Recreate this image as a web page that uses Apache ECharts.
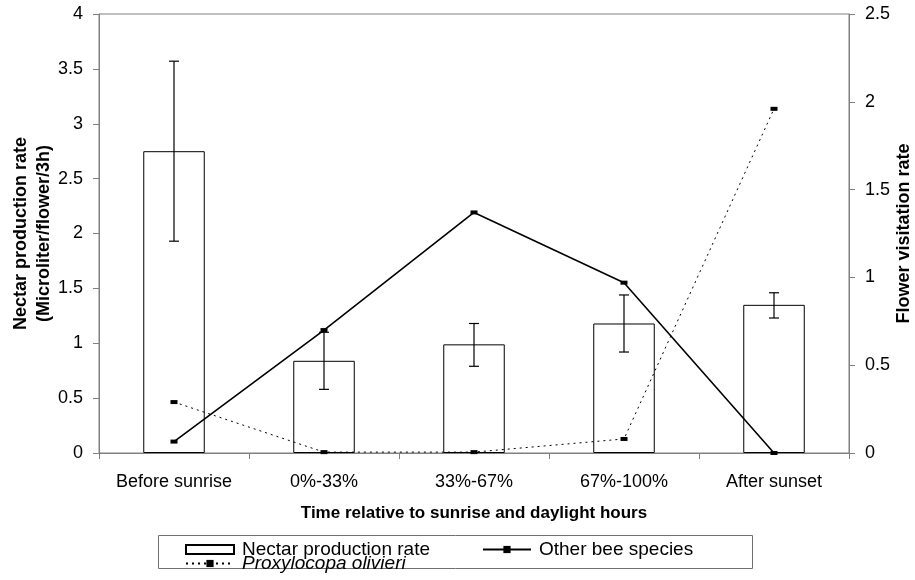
<!DOCTYPE html>
<html>
<head>
<meta charset="utf-8">
<script src="https://cdn.jsdelivr.net/npm/echarts@6/dist/echarts.min.js"></script>
<style>
html,body{margin:0;padding:0;background:#fff;}
#c{width:915px;height:580px;}
</style>
</head>
<body>
<div id="c"></div>
<script>
const categories = ['Before sunrise', '0%-33%', '33%-67%', '67%-100%', 'After sunset'];
const nectarRate = [2.75, 0.84, 0.99, 1.18, 1.35];
const nectarErrLow = [1.93, 0.58, 0.79, 0.92, 1.23];
const nectarErrHigh = [3.57, 1.10, 1.18, 1.44, 1.46];
const otherBees = [0.065, 0.70, 1.37, 0.97, 0.0];
const proxylocopa = [0.29, 0.005, 0.005, 0.08, 1.96];
const leftTicks = { min: 0, max: 4, interval: 0.5 };
const rightTicks = { min: 0, max: 2.5, interval: 0.5 };

const FONT = '"Liberation Sans", Arial, sans-serif';
const AXIS_COLOR = '#808080';

const errData = categories.map((c, i) => [i, nectarErrLow[i], nectarErrHigh[i]]);

const chart = echarts.init(document.getElementById('c'), null, { renderer: 'canvas' });
chart.setOption({
  backgroundColor: '#ffffff',
  animation: false,
  textStyle: { fontFamily: FONT, color: '#000' },
  grid: { left: 99, right: 66, top: 14, bottom: 127, containLabel: false, outerBoundsMode: 'none', show: true, borderColor: AXIS_COLOR, borderWidth: 1, backgroundColor: 'transparent' },
  xAxis: {
    type: 'category',
    data: categories,
    boundaryGap: true,
    axisLine: { lineStyle: { color: AXIS_COLOR, width: 1 } },
    axisTick: { show: true, length: 6, inside: false, lineStyle: { color: AXIS_COLOR } },
    axisLabel: { color: '#000', fontSize: 18, fontFamily: FONT, margin: 20, interval: 0, hideOverlap: false },
    name: 'Time relative to sunrise and daylight hours',
    nameLocation: 'middle',
    nameGap: 52,
    nameMoveOverlap: false,
    nameTextStyle: { color: '#000', fontSize: 17, fontWeight: 'bold', fontFamily: FONT }
  },
  yAxis: [
    {
      type: 'value',
      min: leftTicks.min, max: leftTicks.max, interval: leftTicks.interval,
      position: 'left',
      axisLine: { show: true, lineStyle: { color: AXIS_COLOR, width: 1 } },
      axisTick: { show: true, length: 6, lineStyle: { color: AXIS_COLOR } },
      splitLine: { show: false },
      axisLabel: { color: '#000', fontSize: 18, fontFamily: FONT, margin: 16 },
      name: 'Nectar production rate\n(Microliter/flower/3h)',
      nameLocation: 'middle',
      nameRotate: 90,
      nameGap: 43,
      nameMoveOverlap: false,
      nameTextStyle: { color: '#000', fontSize: 18, fontWeight: 'bold', fontFamily: FONT, lineHeight: 23, align: 'center' }
    },
    {
      type: 'value',
      min: rightTicks.min, max: rightTicks.max, interval: rightTicks.interval,
      position: 'right',
      axisLine: { show: true, lineStyle: { color: AXIS_COLOR, width: 1 } },
      axisTick: { show: true, length: 6, lineStyle: { color: AXIS_COLOR } },
      splitLine: { show: false },
      axisLabel: { color: '#000', fontSize: 18, fontFamily: FONT, margin: 16 },
      name: 'Flower visitation rate',
      nameLocation: 'middle',
      nameRotate: 90,
      nameGap: 46,
      nameMoveOverlap: false,
      nameTextStyle: { color: '#000', fontSize: 18, fontWeight: 'bold', fontFamily: FONT }
    }
  ],
  legend: [
    {
      data: [{ name: 'Nectar production rate', icon: 'rect' }, 'Other bee species'],
      left: 185, top: 540,
      orient: 'horizontal',
      itemWidth: 48, itemHeight: 9, itemGap: 52,
      padding: 0,
      textStyle: { color: '#000', fontSize: 19, fontFamily: FONT, padding: [0, 0, 0, 3] },
      selectedMode: false
    },
    {
      data: ['Proxylocopa olivieri'],
      left: 185, top: 554,
      padding: 0,
      itemWidth: 48, itemHeight: 9,
      textStyle: { color: '#000', fontSize: 19, fontStyle: 'italic', fontFamily: FONT, padding: [0, 0, 0, 3] },
      selectedMode: false
    }
  ],
  graphic: [
    { type: 'rect', shape: { x: 158.5, y: 535.5, width: 594, height: 33 }, style: { fill: 'none', stroke: '#707070', lineWidth: 1 }, z: 0 }
  ],
  series: [
    {
      name: 'Nectar production rate',
      type: 'bar',
      data: nectarRate,
      yAxisIndex: 0,
      barWidth: '41%',
      itemStyle: { color: '#ffffff', borderColor: '#000', borderWidth: 1 },
      z: 2
    },
    {
      name: 'errorbars',
      type: 'custom',
      yAxisIndex: 0,
      data: errData,
      z: 3,
      renderItem: function (params, api) {
        const x = api.value(0);
        const lo = api.coord([x, api.value(1)]);
        const hi = api.coord([x, api.value(2)]);
        const cap = 5;
        const st = { stroke: '#000', lineWidth: 1.2 };
        return {
          type: 'group',
          children: [
            { type: 'line', shape: { x1: lo[0], y1: lo[1], x2: hi[0], y2: hi[1] }, style: st },
            { type: 'line', shape: { x1: lo[0] - cap, y1: lo[1], x2: lo[0] + cap, y2: lo[1] }, style: st },
            { type: 'line', shape: { x1: hi[0] - cap, y1: hi[1], x2: hi[0] + cap, y2: hi[1] }, style: st }
          ]
        };
      }
    },
    {
      name: 'Other bee species',
      type: 'line',
      yAxisIndex: 1,
      data: otherBees,
      symbol: 'rect',
      symbolSize: [7, 4],
      showAllSymbol: true,
      itemStyle: { color: '#000' },
      lineStyle: { color: '#000', width: 1.6, type: 'solid' },
      z: 4
    },
    {
      name: 'Proxylocopa olivieri',
      type: 'line',
      yAxisIndex: 1,
      data: proxylocopa,
      symbol: 'rect',
      symbolSize: [7, 4],
      showAllSymbol: true,
      itemStyle: { color: '#000' },
      lineStyle: { color: '#000', width: 1, type: [2, 4] },
      z: 4
    }
  ]
});
</script>
</body>
</html>
